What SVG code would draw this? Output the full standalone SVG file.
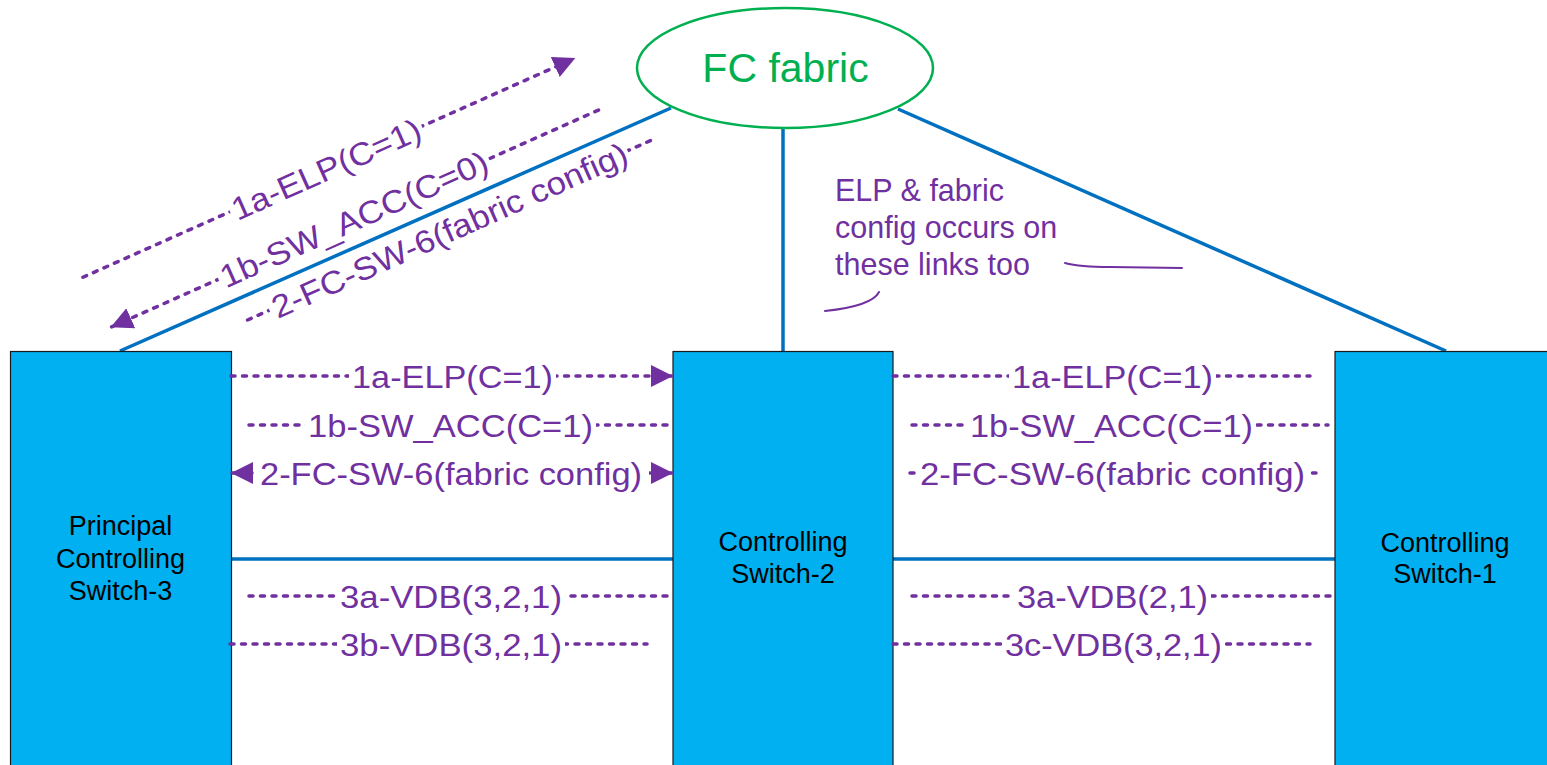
<svg xmlns="http://www.w3.org/2000/svg" width="1547" height="765" viewBox="0 0 1547 765">
  <style>
    .switch { fill: #00B0F0; stroke: #1a1a1a; stroke-width: 1.2; }
    .swlabel { font-family: "Liberation Sans", Arial, sans-serif; font-size: 27px; fill: #000; text-anchor: middle; }
    .link { stroke: #0070C0; stroke-width: 3.5; fill: none; }
    .msg { stroke: #7030A0; stroke-width: 3.5; stroke-linecap: round; stroke-dasharray: 4 7.5; fill: none; }
    .msgbg { fill: #fff; }
    .msgtxt { font-family: "Liberation Sans", Arial, sans-serif; font-size: 32px; fill: #7030A0; }
    .note { font-family: "Liberation Sans", Arial, sans-serif; font-size: 30.5px; fill: #7030A0; }
    .scribble { stroke: #7030A0; stroke-width: 2; fill: none; stroke-linecap: round; }
  </style>
  <defs>
    <marker id="arrow" viewBox="0 0 22 22" refX="21" refY="11" markerWidth="22" markerHeight="22" markerUnits="userSpaceOnUse" orient="auto-start-reverse">
      <path d="M0,0 L22,11 L0,22 z" fill="#7030A0"/>
    </marker>
  </defs>

  <rect width="1547" height="765" fill="#fff"/>

  <!-- physical links -->
  <g id="links">
    <line class="link" x1="120" y1="351" x2="671" y2="108"/>
    <line class="link" x1="783" y1="128" x2="783" y2="351"/>
    <line class="link" x1="898" y1="109" x2="1446" y2="351"/>
    <line class="link" x1="231" y1="559" x2="673" y2="559"/>
    <line class="link" x1="893" y1="559" x2="1335" y2="559"/>
  </g>

  <!-- fabric cloud -->
  <g id="fc-fabric">
    <ellipse cx="785" cy="68" rx="148" ry="60" fill="#fff" stroke="#00B050" stroke-width="2.5"/>
    <text x="785.5" y="82" font-family="Liberation Sans, Arial, sans-serif" font-size="41" fill="#00B050" text-anchor="middle">FC fabric</text>
  </g>

  <!-- switches -->
  <g id="switch-3">
    <rect class="switch" x="10.5" y="351.5" width="221" height="420"/>
    <text class="swlabel" x="120.5" y="535">Principal</text>
    <text class="swlabel" x="120.5" y="568">Controlling</text>
    <text class="swlabel" x="120.5" y="600">Switch-3</text>
  </g>
  <g id="switch-2">
    <rect class="switch" x="673" y="351.5" width="220" height="420"/>
    <text class="swlabel" x="783" y="551">Controlling</text>
    <text class="swlabel" x="783" y="583">Switch-2</text>
  </g>
  <g id="switch-1">
    <rect class="switch" x="1335" y="351.5" width="230" height="420"/>
    <text class="swlabel" x="1445" y="552">Controlling</text>
    <text class="swlabel" x="1445" y="583">Switch-1</text>
  </g>

  <!-- protocol exchanges -->
  <g id="messages">
    <!-- switch-3 to fabric (slanted) -->
    <g transform="rotate(-24)">
      <line class="msg" x1="-37" y1="287" x2="501" y2="287" marker-end="url(#arrow)"/>
      <rect class="msgbg" x="124" y="269" width="210" height="36"/>
      <text class="msgtxt" x="127" y="298.5" textLength="204" lengthAdjust="spacingAndGlyphs">1a-ELP(C=1)</text>

      <line class="msg" x1="-31" y1="344" x2="504" y2="344" marker-start="url(#arrow)"/>
      <rect class="msgbg" x="86" y="326" width="296" height="36"/>
      <text class="msgtxt" x="89" y="355.5" textLength="290" lengthAdjust="spacingAndGlyphs">1b-SW_ACC(C=0)</text>

      <line class="msg" x1="96" y1="393" x2="537" y2="393"/>
      <rect class="msgbg" x="120" y="375" width="392" height="36"/>
      <text class="msgtxt" x="124" y="404.5" textLength="386" lengthAdjust="spacingAndGlyphs">2-FC-SW-6(fabric config)</text>
    </g>

    <!-- switch-3 to switch-2 -->
    <line class="msg" x1="231" y1="376" x2="672" y2="376" marker-end="url(#arrow)"/>
    <rect class="msgbg" x="349" y="358" width="207" height="36"/>
    <text class="msgtxt" x="352" y="387.5" textLength="201" lengthAdjust="spacingAndGlyphs">1a-ELP(C=1)</text>

    <line class="msg" x1="249" y1="425" x2="668" y2="425"/>
    <rect class="msgbg" x="305" y="407" width="291" height="36"/>
    <text class="msgtxt" x="308" y="436.5" textLength="285" lengthAdjust="spacingAndGlyphs">1b-SW_ACC(C=1)</text>

    <line class="msg" x1="232" y1="473" x2="672" y2="473" marker-start="url(#arrow)" marker-end="url(#arrow)"/>
    <rect class="msgbg" x="254" y="455" width="395" height="36"/>
    <text class="msgtxt" x="260" y="484.5" textLength="382" lengthAdjust="spacingAndGlyphs">2-FC-SW-6(fabric config)</text>

    <line class="msg" x1="249" y1="596" x2="667" y2="596"/>
    <rect class="msgbg" x="337" y="578" width="228" height="36"/>
    <text class="msgtxt" x="340" y="607.5" textLength="222" lengthAdjust="spacingAndGlyphs">3a-VDB(3,2,1)</text>

    <line class="msg" x1="230" y1="644" x2="647" y2="644"/>
    <rect class="msgbg" x="337" y="626" width="228" height="36"/>
    <text class="msgtxt" x="340" y="655.5" textLength="222" lengthAdjust="spacingAndGlyphs">3b-VDB(3,2,1)</text>

    <!-- switch-2 to switch-1 -->
    <line class="msg" x1="893" y1="376" x2="1310" y2="376"/>
    <rect class="msgbg" x="1009" y="358" width="207" height="36"/>
    <text class="msgtxt" x="1012" y="387.5" textLength="201" lengthAdjust="spacingAndGlyphs">1a-ELP(C=1)</text>

    <line class="msg" x1="912" y1="425" x2="1328" y2="425"/>
    <rect class="msgbg" x="967" y="407" width="289" height="36"/>
    <text class="msgtxt" x="970" y="436.5" textLength="283" lengthAdjust="spacingAndGlyphs">1b-SW_ACC(C=1)</text>

    <line class="msg" x1="910" y1="473" x2="1316" y2="473"/>
    <rect class="msgbg" x="916" y="455" width="394" height="36"/>
    <text class="msgtxt" x="920" y="484.5" textLength="385" lengthAdjust="spacingAndGlyphs">2-FC-SW-6(fabric config)</text>

    <line class="msg" x1="912" y1="596" x2="1330" y2="596"/>
    <rect class="msgbg" x="1014" y="578" width="197" height="36"/>
    <text class="msgtxt" x="1017" y="607.5" textLength="191" lengthAdjust="spacingAndGlyphs">3a-VDB(2,1)</text>

    <line class="msg" x1="893" y1="644" x2="1310" y2="644"/>
    <rect class="msgbg" x="1002" y="626" width="223" height="36"/>
    <text class="msgtxt" x="1005" y="655.5" textLength="217" lengthAdjust="spacingAndGlyphs">3c-VDB(3,2,1)</text>
  </g>

  <!-- annotation -->
  <g id="note">
    <text class="note" x="835" y="201">ELP &amp; fabric</text>
    <text class="note" x="835" y="238">config occurs on</text>
    <text class="note" x="835" y="275">these links too</text>
    <path class="scribble" d="M1065,263 Q1080,267 1110,267 L1182,268"/>
    <path class="scribble" d="M825,311 Q872,306 879,292"/>
  </g>
</svg>
